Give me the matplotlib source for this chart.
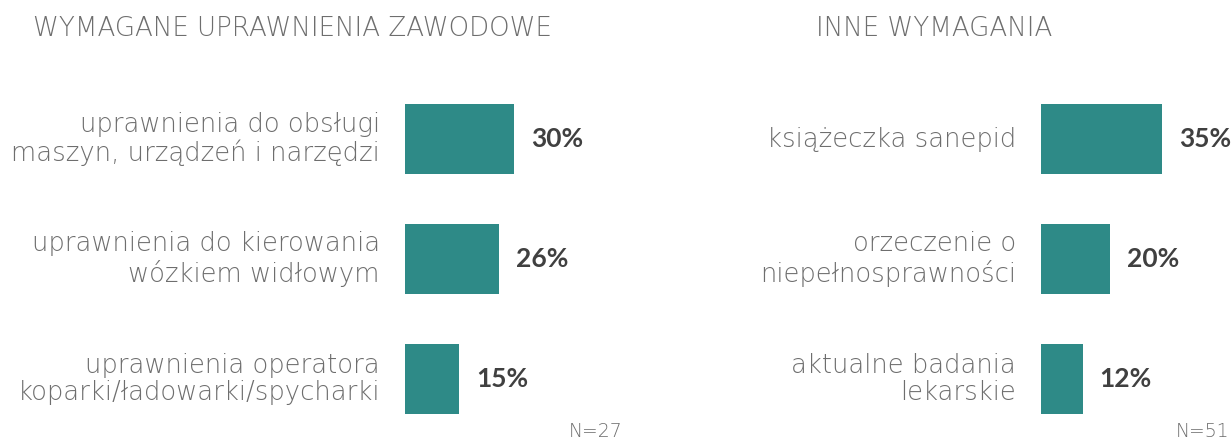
import matplotlib.pyplot as plt

plt.rcParams["font.family"] = ["Lato", "DejaVu Sans"]

left_title = "WYMAGANE UPRAWNIENIA ZAWODOWE"
left_labels = [
    "uprawnienia do obsługi\nmaszyn, urządzeń i narzędzi",
    "uprawnienia do kierowania\nwózkiem widłowym",
    "uprawnienia operatora\nkoparki/ładowarki/spycharki",
]
left_values = [30, 26, 15]
left_n = "N=27"

right_title = "INNE WYMAGANIA"
right_labels = [
    "książeczka sanepid",
    "orzeczenie o\nniepełnosprawności",
    "aktualne badania\nlekarskie",
]
right_values = [35, 20, 12]
right_n = "N=51"

BAR = "#2E8A87"
GREY = "#6e6e6e"
DARK = "#404040"
LIGHT = dict(family=["DejaVu Sans"], fontweight="light")
W, H = 1231, 443

fig = plt.figure(figsize=(W / 100, H / 100), dpi=100)


def panel(x0, px_per_pct, labels, values):
    width = 40 * px_per_pct
    ax = fig.add_axes([x0 / W, 1 - 439 / H, width / W, 360 / H])
    ys = list(range(len(values)))
    ax.barh(ys, values, height=0.583, color=BAR)
    ax.set_xlim(0, 40)
    ax.set_ylim(2.5, -0.5)
    ax.axis("off")
    for y, lab, v in zip(ys, labels, values):
        ax.annotate(lab, xy=(0, y), xytext=(-25, 0), textcoords="offset pixels",
                    ha="right", va="center", fontsize=18.6, color=GREY,
                    linespacing=1.14, annotation_clip=False, **LIGHT)
        ax.annotate(f"{v}%", xy=(v, y), xytext=(17, 0), textcoords="offset pixels",
                    ha="left", va="center", fontsize=19, color=DARK,
                    fontweight="bold", annotation_clip=False)
    return ax


panel(405, 3.63, left_labels, left_values)
panel(1041, 3.46, right_labels, right_values)

fig.text(33 / W, 1 - 28 / H, left_title, ha="left", va="center",
         fontsize=18.8, color=GREY, **LIGHT)
fig.text(816 / W, 1 - 28 / H, right_title, ha="left", va="center",
         fontsize=18.8, color=GREY, **LIGHT)
fig.text(622 / W, 2 / H, left_n, ha="right", va="bottom",
         fontsize=13.5, color=GREY, **LIGHT)
fig.text(1229 / W, 2 / H, right_n, ha="right", va="bottom",
         fontsize=13.5, color=GREY, **LIGHT)

fig.savefig("out.png", dpi=100)
